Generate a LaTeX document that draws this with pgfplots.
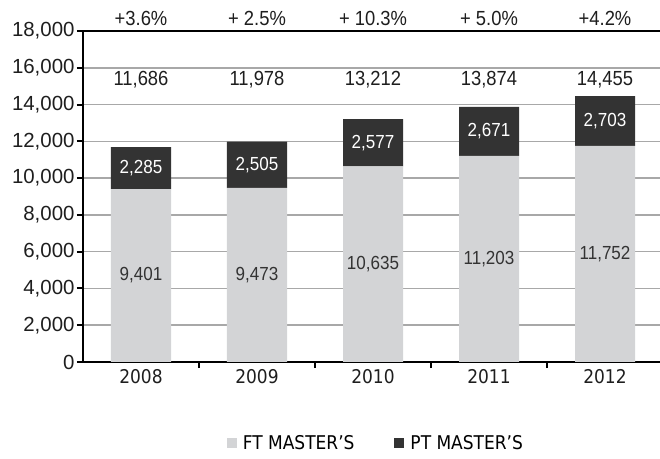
\documentclass[border=0pt]{standalone}
\usepackage{fontspec}
\setmainfont{Liberation Sans}
\newfontfamily\condfont{DejaVu Sans Condensed}
\newfontfamily\narrowfont[FakeStretch=0.9]{Liberation Sans}
\usepackage{pgfplots}
\pgfplotsset{compat=1.18}
\definecolor{ftgray}{HTML}{D3D4D6}
\definecolor{ptgray}{HTML}{333333}
\definecolor{gridgray}{HTML}{A8A8A8}
\definecolor{txt}{HTML}{1E1E1E}

\pgfplotsset{
  frame/.style={
    at={(83bp,97bp)}, anchor=south west,
    scale only axis, width=580bp, height=331bp,
    xmin=-0.5, xmax=4.5, ymin=0, ymax=18000,
  },
}

\begin{document}
\begin{tikzpicture}
\useasboundingbox (0,0) rectangle (660bp,459bp);
\begin{axis}[
  frame,
  ybar stacked, bar width=60bp,
  xtick={0.5,1.5,2.5,3.5}, xticklabels={},
  xtick pos=bottom, ytick pos=left,
  tick align=outside, major tick length=6bp,
  tick style={black, line width=2bp},
  ytick={0,2000,...,18000},
  scaled y ticks=false,
  /pgf/number format/1000 sep={,},
  /pgf/number format/assume math mode=true,
  y tick label style={font=\fontsize{20.5}{24}\selectfont, text=txt, xshift=1bp},
  ymajorgrids, grid style={gridgray, line width=1.5bp},
  axis line style={black, line width=2.2bp},
  legend style={at={(0.505,-0.245)}, anchor=center, draw=none, fill=none,
    legend columns=2, font=\condfont\fontsize{19}{22}\selectfont,
    /tikz/every odd column/.append style={column sep=4bp},
    /tikz/every even column/.append style={column sep=38bp}},
  legend image code/.code={\draw[#1,draw=none] (0bp,-5bp) rectangle (10bp,5bp);},
]
\addplot[fill=ftgray, draw=none] coordinates
  {(0,9401) (1,9473) (2,10635) (3,11203) (4,11752)};
\addplot[fill=ptgray, draw=none] coordinates
  {(0,2285) (1,2505) (2,2577) (3,2671) (4,2703)};
\legend{FT MASTER’S, PT MASTER’S}
\end{axis}

\begin{axis}[
  frame, clip=false,
  axis line style={draw=none},
  xtick={0,...,4}, xticklabels={2008,2009,2010,2011,2012},
  x tick label style={font=\condfont\fontsize{19}{22}\selectfont, text=txt, yshift=-4bp},
  ytick=\empty, tick style={draw=none},
  point meta=explicit symbolic,
]
% FT labels
\addplot[draw=none, nodes near coords,
  nodes near coords style={anchor=center, text=ptgray, font=\narrowfont\fontsize{19}{22}\selectfont}]
  coordinates {(0,4700)[9,401] (1,4737)[9,473] (2,5318)[10,635] (3,5602)[11,203] (4,5876)[11,752]};
% PT labels
\addplot[draw=none, nodes near coords,
  nodes near coords style={anchor=center, text=white, font=\narrowfont\fontsize{19}{22}\selectfont}]
  coordinates {(0,10543)[2,285] (1,10725)[2,505] (2,11923)[2,577] (3,12539)[2,671] (4,13104)[2,703]};
% totals
\addplot[draw=none, nodes near coords,
  nodes near coords style={anchor=center, text=txt, font=\narrowfont\fontsize{20.5}{24}\selectfont}]
  coordinates {(0,15335)[11,686] (1,15335)[11,978] (2,15335)[13,212] (3,15335)[13,874] (4,15335)[14,455]};
% growth
\addplot[draw=none, nodes near coords,
  nodes near coords style={anchor=center, text=txt, font=\narrowfont\fontsize{20.5}{24}\selectfont}]
  coordinates {(0,18700)[+3.6\%] (1,18700)[+ 2.5\%] (2,18700)[+ 10.3\%] (3,18700)[+ 5.0\%] (4,18700)[+4.2\%]};
\end{axis}
\end{tikzpicture}
\end{document}
